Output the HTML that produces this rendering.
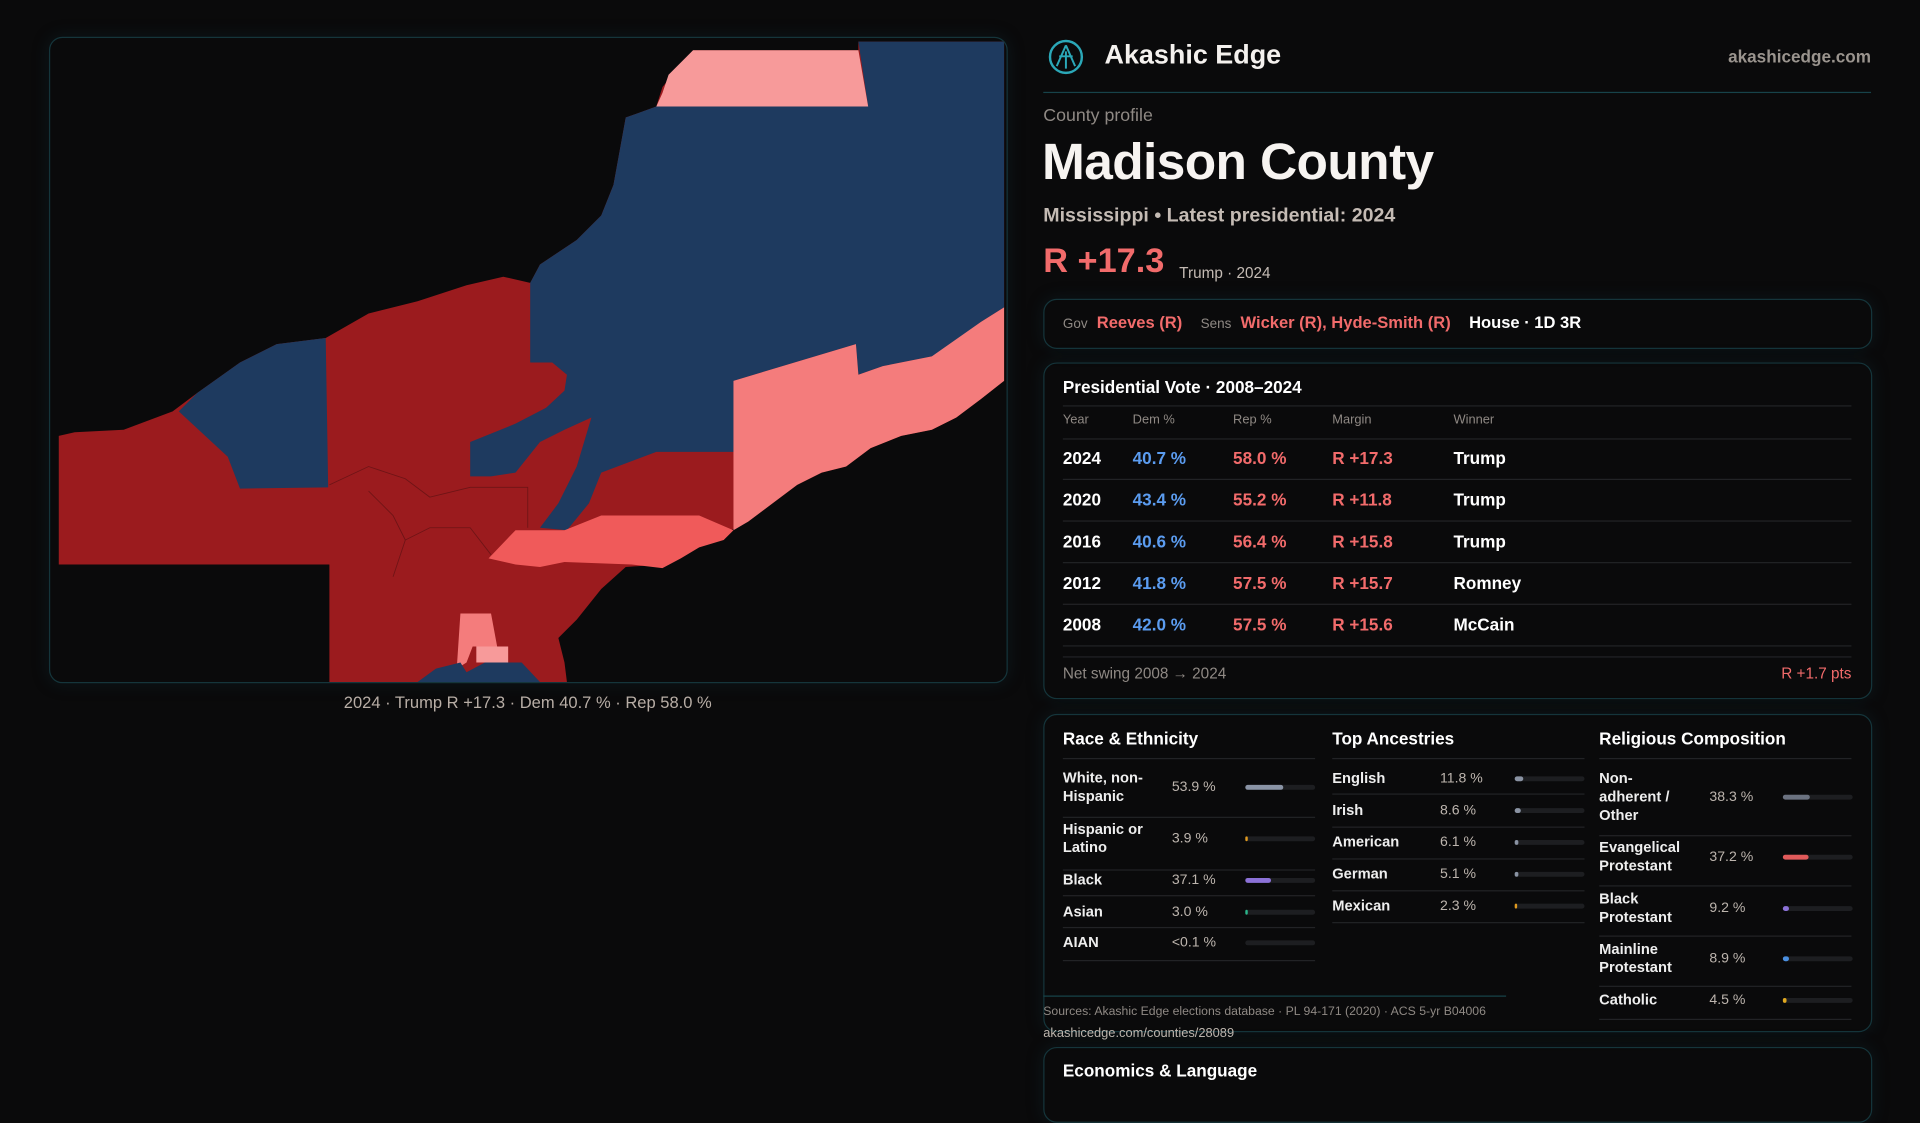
<!DOCTYPE html>
<html><head><meta charset="utf-8">
<style>
html,body{margin:0;padding:0;background:#0a0a0b;width:1920px;height:1080px;overflow:hidden;font-family:"Liberation Sans",sans-serif;}
#wrap{position:absolute;left:0;top:0;width:1568px;height:882px;transform:scale(1.22449);transform-origin:0 0;}
.abs{position:absolute;white-space:nowrap;}
.box{position:absolute;border:1px solid #15353b;border-radius:11px;box-shadow:0 0 14px rgba(20,60,70,0.25);}
.hl{position:absolute;height:1px;background:#222326;}
.red{color:#f26b6b}.blue{color:#5b9cf0}.gray{color:#8f8984}
.th{position:absolute;font-size:10.5px;color:#8f8984;top:337px;}
.cell{position:absolute;font-size:14px;font-weight:bold;transform:translateY(-50%);}
.lab{position:absolute;font-size:12px;color:#eee;font-weight:bold;line-height:15px;transform:translateY(-50%);}
.val{position:absolute;font-size:11.5px;color:#bdb5ae;transform:translateY(-50%);}
.track{position:absolute;height:4px;border-radius:2px;background:#1d1e21;}
.fill{position:absolute;left:0;top:0;height:4px;border-radius:2px;}
.ttl{position:absolute;font-size:14px;font-weight:bold;color:#fff;}
</style></head><body>
<div id="wrap">
<div class="box" style="left:40px;top:30px;width:781px;height:526px;overflow:hidden;">
<svg width="781" height="526" viewBox="40 30 781 526">
<polygon fill="#9b1b1e" points="47,355 60,352 100,350 140,335 160,320 195,295 225,280 265,275 300,255 340,245 380,232 410,225 432,230 440,215 470,195 490,175 500,150 510,95 535,86 540,70 565,40 700,40 700,33 819,33 819,310 800,325 780,340 760,350 735,355 710,365 690,380 670,385 650,395 630,410 610,425 590,435 570,440 555,450 540,460 510,462 490,480 470,505 455,520 460,540 462,556 268,556 268,460 47,460"/>
<polygon fill="#1e3a5f" points="432,230 440,215 470,195 490,175 500,150 510,95 535,86 708,86 700,33 819,33 819,250 800,262 780,282 760,290 740,294 720,298 700,305 698,280 598,310 598,368 535,368 490,385 480,410 462,432 440,430 455,410 470,380 482,340 460,350 440,360 420,385 400,388 383,388 383,360 420,345 445,332 460,318 462,305 450,295 432,295"/>
<polygon fill="#1e3a5f" points="145,335 160,320 195,295 225,280 265,275 267,397 195,398 185,372"/>
<polygon fill="#f79a9a" points="565,40 700,40 708,86 535,86 540,75 545,60"/>
<polygon fill="#f47c7c" points="598,310 698,280 700,305 720,298 760,290 800,262 819,250 819,310 800,325 780,340 760,350 735,355 710,365 690,380 670,385 650,395 630,410 610,425 598,432"/>
<polygon fill="#f05a5a" points="398,455 420,432 460,432 490,420 535,420 570,420 598,432 590,440 570,446 555,455 540,463 515,460 460,458 440,462 420,460"/>
<polygon fill="#f47c7c" points="375,500 400,500 405,527 385,527 380,540 372,545"/>
<polygon fill="#f79a9a" points="388,527 414,527 414,540 388,540"/>
<polygon fill="#1e3a5f" points="340,556 355,545 375,540 380,548 395,540 425,540 440,556"/>
<g stroke="#6e1416" stroke-width="0.7" fill="none">
<polyline points="268,395 300,380 330,390 350,405 383,397 430,397 430,430"/>
<polyline points="320,470 330,440 350,430 383,430 400,452"/>
<polyline points="300,400 320,420 330,440"/>
</g>
</svg>
</div>
<div class="abs" style="left:431px;top:566px;transform:translateX(-50%);font-size:13.5px;color:#b8aea6;">2024 · Trump R +17.3 · Dem 40.7 % · Rep 58.0 %</div>

<svg class="abs" style="left:856px;top:32px" width="29" height="29"><circle cx="14.5" cy="14.5" r="13" fill="none" stroke="#2ba8b8" stroke-width="2"/><path d="M14.5 5 L7 22 M14.5 5 L22 22 M9 14 L20 14 M14.5 10 L14.5 24" stroke="#2ba8b8" stroke-width="1.6" fill="none"/></svg>
<div class="abs" style="left:902px;top:32px;font-size:22px;font-weight:bold;color:#f4f1ee;">Akashic Edge</div>
<div class="abs" style="right:40px;top:38px;font-size:14px;font-weight:bold;color:#9a948e;">akashicedge.com</div>
<div class="abs" style="left:852px;top:75px;width:676px;height:1px;background:#17434a;"></div>
<div class="abs" style="left:852px;top:87px;font-size:14.5px;color:#8f8984;">County profile</div>
<div class="abs" style="left:851px;top:108px;font-size:42px;font-weight:bold;color:#f7f4f1;letter-spacing:-0.5px;">Madison County</div>
<div class="abs" style="left:852px;top:168px;font-size:16px;font-weight:bold;color:#c4bbb4;">Mississippi • Latest presidential: 2024</div>
<div class="abs red" style="left:852px;top:197px;font-size:28px;font-weight:bold;">R +17.3</div>
<div class="abs" style="left:963px;top:216px;font-size:12.5px;color:#c4bbb4;">Trump · 2024</div>

<div class="box" style="left:852px;top:244px;width:675px;height:39px;"></div>
<div class="abs" style="left:868px;top:256px;font-size:13.5px;font-weight:bold;"><span class="gray" style="font-size:11px;font-weight:normal;">Gov</span>&nbsp; <span class="red">Reeves (R)</span>&nbsp;&nbsp;&nbsp; <span class="gray" style="font-size:11px;font-weight:normal;">Sens</span>&nbsp; <span class="red">Wicker (R), Hyde-Smith (R)</span>&nbsp;&nbsp;&nbsp; <span style="color:#fff">House · 1D 3R</span></div>

<div class="box" style="left:852px;top:296px;width:675px;height:273px;"></div>
<div class="ttl" style="left:868px;top:308px;">Presidential Vote · 2008–2024</div>
<div class="hl" style="left:868px;top:331px;width:644px;"></div>
<div class="th" style="left:868px">Year</div>
<div class="th" style="left:925px">Dem %</div>
<div class="th" style="left:1007px">Rep %</div>
<div class="th" style="left:1088px">Margin</div>
<div class="th" style="left:1187px">Winner</div>
<div class="hl" style="left:868px;top:358px;width:644px;"></div>
<div id="vote-rows"></div>
<div class="hl" style="left:868px;top:536px;width:644px;"></div>
<div class="abs gray" style="left:868px;top:543px;font-size:12.5px;">Net swing 2008 → 2024</div>
<div class="abs red" style="right:56px;top:543px;font-size:12.5px;">R +1.7 pts</div>

<div class="box" style="left:852px;top:583px;width:675px;height:258px;"></div>
<div class="ttl" style="left:868px;top:595px;">Race &amp; Ethnicity</div>
<div class="ttl" style="left:1088px;top:595px;">Top Ancestries</div>
<div class="ttl" style="left:1306px;top:595px;">Religious Composition</div>
<div class="hl" style="left:868px;top:619px;width:206px;"></div>
<div class="hl" style="left:1088px;top:619px;width:206px;"></div>
<div class="hl" style="left:1306px;top:619px;width:206px;"></div>
<div id="demo"></div>
<div class="abs" style="left:852px;top:813px;width:378px;height:1px;background:#17434a;"></div>
<div class="abs gray" style="left:852px;top:821px;font-size:10px;">Sources: Akashic Edge elections database · PL 94-171 (2020) · ACS 5-yr B04006</div>
<div class="abs" style="left:852px;top:838px;font-size:10.5px;color:#c0b8b0;">akashicedge.com/counties/28089</div>

<div class="box" style="left:852px;top:855px;width:675px;height:60px;"></div>
<div class="ttl" style="left:868px;top:866px;">Economics &amp; Language</div>
</div>
<script>
const years=['2024','2020','2016','2012','2008'];
const demPct=[40.7,43.4,40.6,41.8,42.0];
const repPct=[58.0,55.2,56.4,57.5,57.5];
const margins=[17.3,11.8,15.8,15.7,15.6];
const winners=['Trump','Trump','Trump','Romney','McCain'];
const raceLabels=['White, non-<br>Hispanic','Hispanic or<br>Latino','Black','Asian','AIAN'];
const raceVals=[53.9,3.9,37.1,3.0,0];
const raceText=['53.9 %','3.9 %','37.1 %','3.0 %','<0.1 %'];
const ancLabels=['English','Irish','American','German','Mexican'];
const ancVals=[11.8,8.6,6.1,5.1,2.3];
const relLabels=['Non-<br>adherent /<br>Other','Evangelical<br>Protestant','Black<br>Protestant','Mainline<br>Protestant','Catholic'];
const relVals=[38.3,37.2,9.2,8.9,4.5];

const vr=document.getElementById('vote-rows');
years.forEach((y,i)=>{
  const cy=374+i*34;
  const cells=[[868,y,'#fff','year'],[925,demPct[i].toFixed(1)+' %','#5b9cf0','dem'],[1007,repPct[i].toFixed(1)+' %','#f26b6b','rep'],[1088,'R +'+margins[i].toFixed(1),'#f26b6b','margin'],[1187,winners[i],'#fff','winner']];
  cells.forEach(c=>{const d=document.createElement('div');d.className='cell';d.style.left=c[0]+'px';d.style.top=cy+'px';d.style.color=c[2];d.innerHTML=c[1];
  
  
  vr.appendChild(d);});
  const l=document.createElement('div');l.className='hl';l.style.left='868px';l.style.width='644px';l.style.top=(cy+17)+'px';
  
  
  vr.appendChild(l);
});
const demo=document.getElementById('demo');
function col(x,valX,barX,labels,vals,texts,colors,centers,lines,key){
  labels.forEach((lab,i)=>{
    const cy=centers[i];
    const a=document.createElement('div');a.className='lab';a.style.left=x+'px';a.style.top=cy+'px';a.innerHTML=lab;
    
    
    demo.appendChild(a);
    const v=document.createElement('div');v.className='val';v.style.left=valX+'px';v.style.top=cy+'px';v.textContent=texts?texts[i]:vals[i].toFixed(1)+' %';
    
    
    demo.appendChild(v);
    const t=document.createElement('div');t.className='track';t.style.left=barX+'px';t.style.top=(cy-2)+'px';t.style.width='57px';
    
    
    const f=document.createElement('div');f.className='fill';f.style.background=colors[i];
    const w=vals[i]/100*57;f.style.width=(vals[i]>0?Math.max(w,2):0)+'px';
    t.appendChild(f);demo.appendChild(t);
    const l=document.createElement('div');l.className='hl';l.style.left=x+'px';l.style.width='206px';l.style.top=lines[i]+'px';
    
    
    demo.appendChild(l);
  });
}
col(868,957,1017,raceLabels,raceVals,raceText,['#8a94a6','#e09a20','#8c72d8','#2bb58a','#444'],[643,685,719,745,770],[667,710,731,757,784],'race');
col(1088,1176,1237,ancLabels,ancVals,null,['#8a93a3','#8a93a3','#8a93a3','#8a93a3','#e09a20'],[636,662,688,714,740],[648,675,701,727,753],'ancestry');
col(1306,1396,1456,relLabels,relVals,null,['#6b7280','#e05a5a','#8c72d8','#4a8fe0','#e0a820'],[651,700,742,783,817],[682,723,764,805,832],'religion');
</script>
</body></html>
